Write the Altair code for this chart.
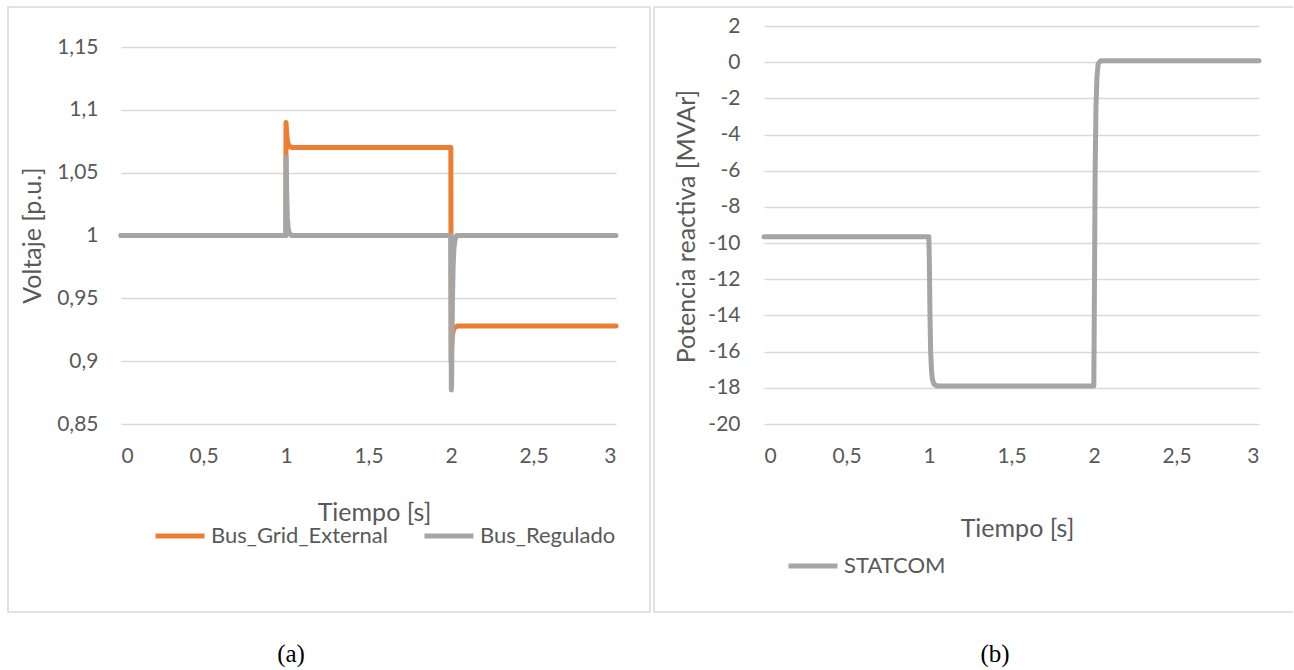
import altair as alt
import pandas as pd

# ---------------- data ----------------
t_grid = [0, 0.999, 1.0, 1.004, 1.008, 1.015, 1.025, 1.04, 1.999, 2.001, 2.004, 2.008, 2.015, 2.025, 2.04, 3.0]
v_grid = [1.0, 1.0, 1.09, 1.082, 1.076, 1.072, 1.0705, 1.07, 1.07, 0.900, 0.912, 0.920, 0.925, 0.927, 0.928, 0.928]

t_reg = [0, 0.999, 1.001, 1.004, 1.008, 1.013, 1.02, 1.03, 1.999, 2.002, 2.004, 2.006, 2.009, 2.013, 2.018, 2.025, 2.035, 3.0]
v_reg = [1.0, 1.0, 1.062, 1.035, 1.015, 1.006, 1.002, 1.0, 1.0, 0.877, 0.885, 0.92, 0.95, 0.975, 0.99, 0.997, 1.0, 1.0]

t_stat = [0, 0.999, 1.002, 1.006, 1.01, 1.015, 1.02, 1.03, 1.05, 1.999, 2.003, 2.007, 2.012, 2.018, 2.025, 2.04, 3.0]
v_stat = [-9.65, -9.65, -11.0, -14.0, -16.0, -17.0, -17.5, -17.8, -17.9, -17.9, -12.0, -6.0, -2.5, -0.8, -0.1, 0.08, 0.08]

series_a = ["Bus_Grid_External", "Bus_Regulado"]
series_b = ["STATCOM"]
x_ticks = [0, 0.5, 1, 1.5, 2, 2.5, 3]
y_ticks_a = [0.85, 0.9, 0.95, 1, 1.05, 1.1, 1.15]
y_ticks_b = [2, 0, -2, -4, -6, -8, -10, -12, -14, -16, -18, -20]
captions = ["(a)", "(b)"]
x_title = "Tiempo [s]"
y_title_a = "Voltaje [p.u.]"
y_title_b = "Potencia reactiva [MVAr]"

# ---------------- style ----------------
ORANGE = "#ED7D31"
GRAY = "#A5A5A5"
TEXT = "#595959"
GRID = "#D9D9D9"
FONT = "Lato"
W, H = 495, 398
# left panel: 0.05 p.u. per 62.83 px, bottom at 0.85
ytop_a = 0.85 + H / 377.0 * 0.30

label_expr = "replace(toString(datum.value), '.', ',')"

df_a = pd.concat([
    pd.DataFrame({"t": t_grid, "v": v_grid, "serie": series_a[0]}),
    pd.DataFrame({"t": t_reg, "v": v_reg, "serie": series_a[1]}),
], ignore_index=True)
df_b = pd.DataFrame({"t": t_stat, "v": v_stat, "serie": series_b[0]})
one = pd.DataFrame({"k": [0]})


def x_axis(title_y):
    return alt.X(
        "t:Q",
        scale=alt.Scale(domain=[0, 3], nice=False),
        axis=alt.Axis(values=x_ticks, labelExpr=label_expr, grid=False,
                      title=x_title, titleX=253, titleY=title_y,
                      titleAlign="center", titleBaseline="alphabetic",
                      labelPadding=21),
    )


def legend(lx, ly):
    return alt.Legend(orient="none", legendX=lx, legendY=ly,
                      direction="horizontal", title=None,
                      symbolType="stroke", symbolSize=2400,
                      symbolStrokeWidth=5, labelFont=FONT,
                      labelFontSize=22, labelColor=TEXT, labelLimit=400,
                      columnPadding=26, labelOffset=4)


def caption(text, cx):
    return alt.Chart(one).mark_text(font="Liberation Serif", fontSize=25, color="black",
                                    align="center", baseline="alphabetic").encode(
        x=alt.value(cx), y=alt.value(636), text=alt.value(text))


# ---------------- panel (a) ----------------
lines_a = alt.Chart(df_a).mark_line(strokeWidth=5, strokeJoin="round", strokeCap="round").encode(
    x=x_axis(96),
    y=alt.Y("v:Q", scale=alt.Scale(domain=[0.85, ytop_a], nice=False, zero=False),
            axis=alt.Axis(values=y_ticks_a, labelExpr=label_expr, title=y_title_a,
                          titleX=-81, titleY=209, titleAlign="center",
                          titleBaseline="alphabetic", labelPadding=23)),
    color=alt.Color("serie:N", scale=alt.Scale(domain=series_a, range=[ORANGE, GRAY]),
                    legend=legend(32, 483)),
)
border_a = alt.Chart(one).mark_rect(fillOpacity=0, stroke=GRID, strokeWidth=1.5).encode(
    x=alt.value(-113), x2=alt.value(529), y=alt.value(-19), y2=alt.value(586))
panel_a = alt.layer(border_a, lines_a, caption(captions[0], 170)).properties(width=W, height=H)

# ---------------- panel (b) ----------------
lines_b = alt.Chart(df_b).mark_line(strokeWidth=5, strokeJoin="round", strokeCap="round").encode(
    x=x_axis(112),
    y=alt.Y("v:Q", scale=alt.Scale(domain=[-20, 2], nice=False, zero=False),
            axis=alt.Axis(values=y_ticks_b, labelExpr=label_expr, title=y_title_b,
                          titleX=-70, titleY=200, titleAlign="center",
                          titleBaseline="alphabetic", labelPadding=24)),
    color=alt.Color("serie:N", scale=alt.Scale(domain=series_b, range=[GRAY]),
                    legend=legend(22, 513)),
)
edge_left = alt.Chart(one).mark_rule(color=GRID, strokeWidth=1.5).encode(
    x=alt.value(-110), y=alt.value(-19), y2=alt.value(586))
edge_top = alt.Chart(one).mark_rule(color=GRID, strokeWidth=1.5).encode(
    x=alt.value(-110), x2=alt.value(529), y=alt.value(-19))
edge_bottom = alt.Chart(one).mark_rule(color=GRID, strokeWidth=1.5).encode(
    x=alt.value(-110), x2=alt.value(529), y=alt.value(586))
panel_b = alt.layer(edge_left, edge_top, edge_bottom, lines_b,
                    caption(captions[1], 231)).properties(width=W, height=H)

chart = alt.hconcat(panel_a, panel_b, spacing=148, bounds="flush").resolve_scale(
    x="independent", y="independent", color="independent"
).resolve_legend(color="independent").properties(
    padding={"left": 7, "top": 6, "right": 0, "bottom": 0},
    background="white",
).configure_axis(
    labelFont=FONT, titleFont=FONT, labelFontSize=21, titleFontSize=25,
    labelColor=TEXT, titleColor=TEXT, titleFontWeight="normal",
    domain=False, ticks=False, gridColor=GRID, gridWidth=1.6,
).configure_view(strokeWidth=0)

chart.save("out.html", embed_options={"renderer": "svg", "actions": False})
